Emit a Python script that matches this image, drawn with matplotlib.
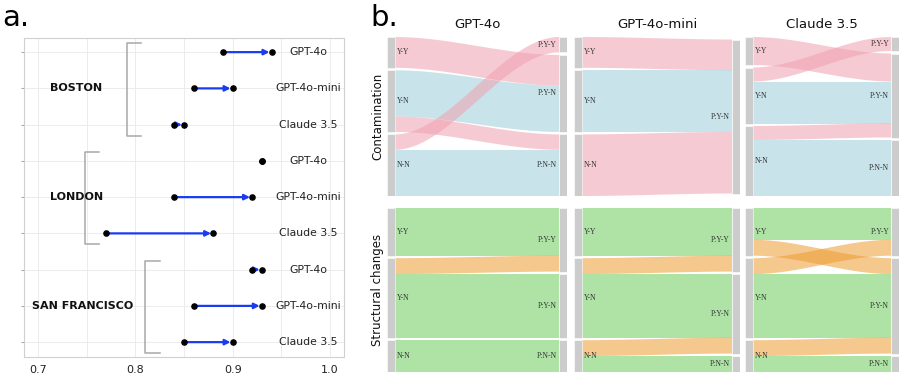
import numpy as np
import matplotlib
matplotlib.use("Agg")
import matplotlib.pyplot as plt
from matplotlib.patches import Rectangle, Polygon

# ─── PANEL A DATA ────────────────────────────────────────────────────────────
cities = ["BOSTON", "LONDON", "SAN FRANCISCO"]
models = ["GPT-4o", "GPT-4o-mini", "Claude 3.5"]
# score before -> after, per city (rows follow `models`)
score_start = [
    [0.89, 0.86, 0.84],
    [0.93, 0.84, 0.77],
    [0.92, 0.86, 0.85],
]
score_end = [
    [0.94, 0.90, 0.85],
    [0.93, 0.92, 0.88],
    [0.93, 0.93, 0.90],
]

# ─── PANEL B DATA ────────────────────────────────────────────────────────────
src_nodes = ["Y-Y", "Y-N", "N-N"]
dst_nodes = ["P:Y-Y", "P:Y-N", "P:N-N"]
sankey_cols = ["GPT-4o", "GPT-4o-mini", "Claude 3.5"]
sankey_rows = ["Contamination", "Structural changes"]
# flow counts: rows = source node, cols = predicted node
contamination = [
    [[0, 2, 0], [0, 3, 1], [1, 0, 3]],
    [[0, 2, 0], [0, 4, 0], [0, 4, 0]],
    [[0, 2, 0], [1, 3, 0], [0, 1, 4]],
]
structural = [
    [[3, 0, 0], [1, 4, 0], [0, 0, 2]],
    [[3, 0, 0], [1, 4, 0], [0, 1, 1]],
    [[2, 1, 0], [1, 4, 0], [0, 1, 1]],
]

# ─── STYLE ───────────────────────────────────────────────────────────────────
W, H = 914, 381
ARROW_BLUE = "#1a3cf0"
BRACKET = "#a8a8a8"
NODE_GRAY = "#cccccc"
LINK_ALPHA = 0.55
CORRECT = {"Contamination": (155/255, 204/255, 217/255),
           "Structural changes": (108/255, 204/255, 91/255)}
WRONG = {"Contamination": (240/255, 160/255, 175/255),
         "Structural changes": (237/255, 157/255, 50/255)}

fig = plt.figure(figsize=(W / 100, H / 100), dpi=100)
fig.patch.set_facecolor("white")


def fx(px):
    return px / W


def fy(py):
    return 1 - py / H


# ─── PANEL A ─────────────────────────────────────────────────────────────────
ax = fig.add_axes([fx(24), fy(357), fx(344 - 24), (357 - 38) / H])
ax.set_xlim(0.6855, 1.0145)
ax.set_ylim(8.41, -0.39)
ax.set_xticks([0.7, 0.8, 0.9, 1.0])
ax.set_xticklabels(["0.7", "0.8", "0.9", "1.0"], fontsize=8, color="#222222")
ax.set_xticks([0.75, 0.85, 0.95], minor=True)
ax.set_yticks(range(9))
ax.set_yticklabels([])
ax.tick_params(axis="x", which="both", length=0, pad=6)
ax.tick_params(axis="y", length=2.5, color="#aaaaaa", width=0.8)
ax.grid(True, which="both", color="#ececec", linewidth=0.7, zorder=0)
for s in ax.spines.values():
    s.set_color("#d0d0d0")
    s.set_linewidth(0.8)

bracket_x = [0.791, 0.748, 0.810]
label_x = [0.712, 0.712, 0.694]
row = 0
for ci, city in enumerate(cities):
    first = row
    for mi, model in enumerate(models):
        a, b = score_start[ci][mi], score_end[ci][mi]
        if b != a:
            ax.annotate("", xy=(b, row), xytext=(a, row),
                        arrowprops=dict(arrowstyle="-|>", color=ARROW_BLUE, lw=1.6,
                                        mutation_scale=8, shrinkA=0, shrinkB=1.5),
                        zorder=3)
        ax.scatter([a, b], [row, row], s=14, color="black", zorder=4)
        ax.text(0.978, row, model, ha="center", va="center", fontsize=7.8,
                color="#222222")
        row += 1
    last = row - 1
    bx = bracket_x[ci]
    ax.plot([bx + 0.015, bx, bx, bx + 0.015],
            [first - 0.25, first - 0.25, last + 0.3, last + 0.3],
            color=BRACKET, lw=1.1, zorder=2)
    ax.text(label_x[ci], (first + last) / 2, city, ha="left", va="center",
            fontsize=8, fontweight="bold", color="#111111")

fig.text(fx(2), fy(18), "a.", fontsize=21, va="center", ha="left")
fig.text(fx(370), fy(18), "b.", fontsize=21, va="center", ha="left")

# ─── PANEL B ─────────────────────────────────────────────────────────────────
col_px = [(387, 567), (574, 740), (745, 899)]
row_px = [(37, 196), (208, 372)]
GAP_PX = 2.5
NODE_PX = 8


def smooth(t):
    return 3 * t ** 2 - 2 * t ** 3


def draw_sankey(ax, flows, kind, w_px, h_px):
    flows = np.array(flows, dtype=float)
    out_tot = flows.sum(axis=1)
    in_tot = flows.sum(axis=0)
    total = flows.sum()
    gap = GAP_PX / h_px
    nw = NODE_PX / w_px
    kmax = max((out_tot > 0).sum(), (in_tot > 0).sum())
    scale = (1 - (kmax - 1) * gap) / total

    def layout(tots):
        k = (tots > 0).sum()
        span = total * scale + (k - 1) * gap
        y = (1 - span) / 2
        tops = np.zeros(len(tots))
        for i, v in enumerate(tots):
            tops[i] = y
            if v > 0:
                y += v * scale + gap
        return tops

    src_top = layout(out_tot)
    dst_top = layout(in_tot)

    # links
    src_cur = src_top.copy()
    dst_cur = dst_top.copy()
    t = np.linspace(0, 1, 60)
    x = nw + (1 - 2 * nw) * t
    s = smooth(t)
    for i in range(3):
        for j in range(3):
            v = flows[i, j]
            if v <= 0:
                continue
            h = v * scale
            y0, y1 = src_cur[i], dst_cur[j]
            top = y0 + (y1 - y0) * s
            pts = np.vstack([np.column_stack([x, top]),
                             np.column_stack([x[::-1], top[::-1] + h])])
            c = CORRECT[kind] if i == j else WRONG[kind]
            ax.add_patch(Polygon(pts, closed=True, facecolor=c, alpha=LINK_ALPHA,
                                 edgecolor="none", zorder=2))
            src_cur[i] += h
            dst_cur[j] += h

    # nodes
    for i, v in enumerate(out_tot):
        if v > 0:
            hh = v * scale
            ax.add_patch(Rectangle((0, src_top[i]), nw, hh, facecolor=NODE_GRAY,
                                   edgecolor="white", lw=0.4, zorder=3))
            ax.text(nw + 0.012, src_top[i] + hh / 2, src_nodes[i], ha="left",
                    va="center", fontsize=5.5, family="Liberation Serif",
                    color="#333333", zorder=4)
    for j, v in enumerate(in_tot):
        if v > 0:
            hh = v * scale
            ax.add_patch(Rectangle((1 - nw, dst_top[j]), nw, hh, facecolor=NODE_GRAY,
                                   edgecolor="white", lw=0.4, zorder=3))
            ax.text(1 - nw - 0.012, dst_top[j] + hh / 2, dst_nodes[j], ha="right",
                    va="center", fontsize=5.5, family="Liberation Serif",
                    color="#333333", zorder=4)


for r, kind in enumerate(sankey_rows):
    data = contamination if kind == "Contamination" else structural
    y0, y1 = row_px[r]
    for c, name in enumerate(sankey_cols):
        x0, x1 = col_px[c]
        sax = fig.add_axes([fx(x0), fy(y1), (x1 - x0) / W, (y1 - y0) / H])
        sax.set_xlim(0, 1)
        sax.set_ylim(1, 0)
        sax.axis("off")
        draw_sankey(sax, data[c], kind, x1 - x0, y1 - y0)
        if r == 0:
            fig.text(fx((x0 + x1) / 2), fy(25), name, ha="center", va="center",
                     fontsize=9.5, color="#111111")
    fig.text(fx(378), fy((y0 + y1) / 2), kind, rotation=90, ha="center",
             va="center", fontsize=8.5, color="#111111")

fig.savefig("out.png", dpi=100)
